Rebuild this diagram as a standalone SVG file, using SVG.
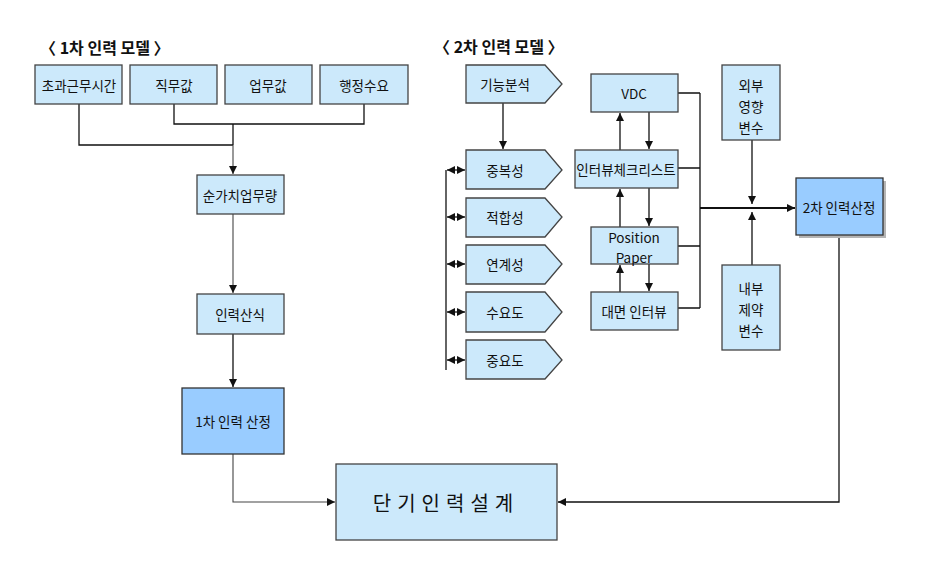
<svg xmlns="http://www.w3.org/2000/svg" width="935" height="580" viewBox="0 0 935 580">
<style>
text{font-family:"Noto Sans CJK KR","Liberation Sans",sans-serif;font-size:13.5px;fill:#111;text-anchor:middle;dominant-baseline:central}
.title{font-size:16px;font-weight:bold;text-anchor:start}
.box{fill:#cce9fb;stroke:#444;stroke-width:1.3}
.dark{fill:#99ccff;stroke:#333;stroke-width:1.3}
.sh{fill:#b5b5b5}
.ln{fill:none;stroke:#111;stroke-width:1.3}
.gl{fill:none;stroke:#444;stroke-width:1.1}
.thick{fill:none;stroke:#111;stroke-width:2.2}
</style>
<defs>
<marker id="a" viewBox="0 0 10 10" refX="10" refY="5" markerWidth="8" markerHeight="9" markerUnits="userSpaceOnUse" orient="auto-start-reverse"><path d="M0,0L10,5L0,10z" fill="#111"/></marker>
</defs>
<rect width="935" height="580" fill="#fff"/>
<text class="title" x="40" y="47">〈 1차 인력 모델 〉</text>
<text class="title" x="434" y="46">〈 2차 인력 모델 〉</text>

<g id="connectors">
<path class="ln" d="M79,104V145H233M174,104V124H364V104M233,124V145"/>
<path class="gl" d="M233,145V174" marker-end="url(#a)"/>
<path class="gl" d="M233,214V293" marker-end="url(#a)"/>
<path class="ln" d="M233,334V387" marker-end="url(#a)"/>
<path class="gl" d="M233,454V502H335" marker-end="url(#a)"/>
<path class="ln" d="M839,235V502H558" marker-end="url(#a)"/>
<path class="ln" d="M503,103V149" marker-end="url(#a)"/>
<path class="ln" d="M446,170V370"/>
<path class="ln" d="M447,170H465" marker-start="url(#a)" marker-end="url(#a)"/>
<path class="ln" d="M447,217H465" marker-start="url(#a)" marker-end="url(#a)"/>
<path class="ln" d="M447,264H465" marker-start="url(#a)" marker-end="url(#a)"/>
<path class="ln" d="M447,312H465" marker-start="url(#a)" marker-end="url(#a)"/>
<path class="ln" d="M447,360H465" marker-start="url(#a)" marker-end="url(#a)"/>
<path class="ln" d="M620,150V113" marker-end="url(#a)"/>
<path class="ln" d="M649,112V149" marker-end="url(#a)"/>
<path class="ln" d="M620,227V189" marker-end="url(#a)"/>
<path class="ln" d="M649,188V226" marker-end="url(#a)"/>
<path class="ln" d="M620,292V265" marker-end="url(#a)"/>
<path class="ln" d="M649,264V291" marker-end="url(#a)"/>
<path class="ln" d="M678,93H700M678,168H700M678,246H700M678,308H700M700,93V308"/>
<path class="thick" d="M700,208H795" marker-end="url(#a)"/>
<path class="ln" d="M752,140V204" marker-end="url(#a)"/>
<path class="ln" d="M752,265V212" marker-end="url(#a)"/>
</g>

<g id="n-overtime"><rect class="box" x="35" y="65" width="87" height="39"/><text x="79" y="85">초과근무시간</text></g>
<g id="n-jikmu"><rect class="box" x="130" y="65" width="87" height="39"/><text x="174" y="85">직무값</text></g>
<g id="n-eopmu"><rect class="box" x="225" y="65" width="87" height="39"/><text x="268" y="85">업무값</text></g>
<g id="n-admin"><rect class="box" x="320" y="65" width="88" height="39"/><text x="364" y="85">행정수요</text></g>
<g id="n-net"><rect class="box" x="197" y="175" width="87" height="39"/><text x="240" y="195">순가치업무량</text></g>
<g id="n-formula"><rect class="box" x="197" y="294" width="87" height="40"/><text x="240" y="314">인력산식</text></g>
<g id="n-first"><rect class="dark" x="182" y="388" width="102" height="66"/><text x="233" y="421">1차 인력 산정</text></g>
<g id="n-design"><rect class="box" x="336" y="464" width="221" height="76"/><text x="446" y="502" style="font-size:20px;letter-spacing:6px">단기인력설계</text></g>

<g id="n-func"><path class="box" d="M466,65H545L562,84L545,103H466z"/><text x="505" y="84">기능분석</text></g>
<g id="n-dup"><path class="box" d="M466,150H545L562,170L545,189H466z"/><text x="505" y="170">중복성</text></g>
<g id="n-fit"><path class="box" d="M466,198H545L562,217L545,237H466z"/><text x="505" y="217">적합성</text></g>
<g id="n-link"><path class="box" d="M466,245H545L562,264L545,284H466z"/><text x="505" y="264">연계성</text></g>
<g id="n-demand"><path class="box" d="M466,292H545L562,312L545,332H466z"/><text x="505" y="312">수요도</text></g>
<g id="n-import"><path class="box" d="M466,340H545L562,360L545,379H466z"/><text x="505" y="360">중요도</text></g>

<g id="n-vdc"><rect class="box" x="591" y="74" width="87" height="38"/><text x="634" y="93">VDC</text></g>
<g id="n-check"><rect class="box" x="575" y="150" width="103" height="38"/><text x="626" y="169">인터뷰체크리스트</text></g>
<g id="n-paper"><rect class="box" x="591" y="227" width="87" height="37"/><text x="634" y="237">Position</text><text x="634" y="257">Paper</text></g>
<g id="n-interview"><rect class="box" x="591" y="292" width="87" height="38"/><text x="634" y="311">대면 인터뷰</text></g>

<g id="n-ext"><rect class="box" x="722" y="65" width="58" height="75"/><text x="751" y="85">외부</text><text x="751" y="106">영향</text><text x="751" y="127">변수</text></g>
<g id="n-int"><rect class="box" x="722" y="265" width="58" height="85"/><text x="751" y="288">내부</text><text x="751" y="309">제약</text><text x="751" y="330">변수</text></g>
<g id="n-second"><rect class="sh" x="799" y="181" width="87" height="57"/><rect class="dark" x="796" y="178" width="87" height="57"/><text x="839" y="207">2차 인력산정</text></g>
</svg>
